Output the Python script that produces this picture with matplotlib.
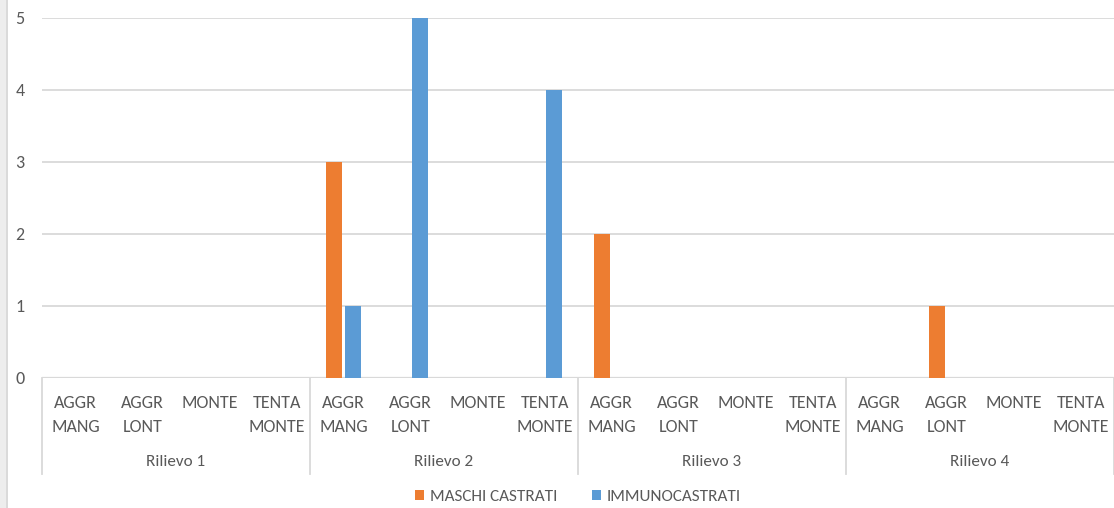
import matplotlib
matplotlib.use("Agg")
import matplotlib.pyplot as plt
from matplotlib.patches import Patch, Rectangle
from matplotlib.lines import Line2D
import matplotlib.transforms as mtransforms
from matplotlib import font_manager
import numpy as np

names = {f.name for f in font_manager.fontManager.ttflist}
fam = next((f for f in ['Carlito', 'Roboto Condensed', 'Lato'] if f in names), 'DejaVu Sans')
plt.rcParams['font.family'] = [fam, 'DejaVu Sans']

groups = ["Rilievo 1", "Rilievo 2", "Rilievo 3", "Rilievo 4"]
subcats = ["AGGR\nMANG", "AGGR\nLONT", "MONTE", "TENTA\nMONTE"]
maschi = [0, 0, 0, 0, 3, 0, 0, 0, 2, 0, 0, 0, 0, 1, 0, 0]
immuno = [0, 0, 0, 0, 1, 5, 0, 4, 0, 0, 0, 0, 0, 0, 0, 0]
series_names = ["MASCHI CASTRATI", "IMMUNOCASTRATI"]
yticks = [0, 1, 2, 3, 4, 5]

ORANGE = "#ED7D31"
BLUE = "#5B9BD5"
GRID = "#D9D9D9"
TXT = "#595959"
carl = fam == 'Carlito'
FS = 13 if carl else 11
FS2 = 12.3 if carl else 11

W, H = 1114, 508
fig = plt.figure(figsize=(W / 100, H / 100), dpi=100)
ax = fig.add_axes([42 / W, 1 - 378 / H, (W - 42) / W, (378 - 18) / H])

n = len(groups) * len(subcats)
x = np.arange(n)
bw = 0.229
off = 0.142
ax.bar(x - off, [v if v else np.nan for v in maschi], width=bw, color=ORANGE, zorder=3)
ax.bar(x + off, [v if v else np.nan for v in immuno], width=bw, color=BLUE, zorder=3)

ax.set_xlim(-0.5, n - 0.5)
ax.set_ylim(0, 5)
ax.set_yticks(yticks)
ax.set_yticklabels([str(t) for t in yticks])
ax.yaxis.grid(True, color=GRID, linewidth=1.3, zorder=0)
ax.set_axisbelow(True)
for s in ax.spines.values():
    s.set_visible(False)
ax.tick_params(axis='y', length=0, pad=16, labelcolor=TXT, labelsize=FS)
ax.set_xticks([])
for lbl in ax.get_yticklabels():
    lbl.set_horizontalalignment('center')

# axis baseline
ax.axhline(0, color=GRID, linewidth=1.6, zorder=2)

trans = mtransforms.blended_transform_factory(ax.transData, fig.transFigure)
y_top = 1 - 378 / H
y_bot = 1 - 474 / H
# category separators
for b in np.arange(-0.5, n, len(subcats)):
    ax.add_line(Line2D([b, b], [y_top, y_bot], transform=trans, color=GRID,
                       linewidth=1.3, clip_on=False))

# subcategory labels
for i in range(n):
    ax.text(i, 1 - 395 / H, subcats[i % len(subcats)], transform=trans,
            ha='center', va='top', fontsize=FS, color=TXT, linespacing=1.62)
# group labels
for g, name in enumerate(groups):
    cx = g * len(subcats) + (len(subcats) - 1) / 2
    ax.text(cx, 1 - 462 / H, name, transform=trans, ha='center', va='center',
            fontsize=FS2, color=TXT)

# left gray strip
fig.patches.append(Rectangle((0, 0), 6 / W, 1, transform=fig.transFigure,
                             facecolor="#EDEDED", edgecolor='none'))
fig.patches.append(Rectangle((6 / W, 0), 1.5 / W, 1, transform=fig.transFigure,
                             facecolor="#DADADA", edgecolor='none'))

handles = [Patch(facecolor=ORANGE), Patch(facecolor=BLUE)]
fig.legend(handles, series_names, loc='center', bbox_to_anchor=(578 / W, 1 - 497 / H),
           ncol=2, frameon=False, fontsize=FS2, labelcolor=TXT,
           handlelength=0.55, handleheight=0.55, handletextpad=0.35, columnspacing=2.0)

fig.savefig("out.png", dpi=100)
